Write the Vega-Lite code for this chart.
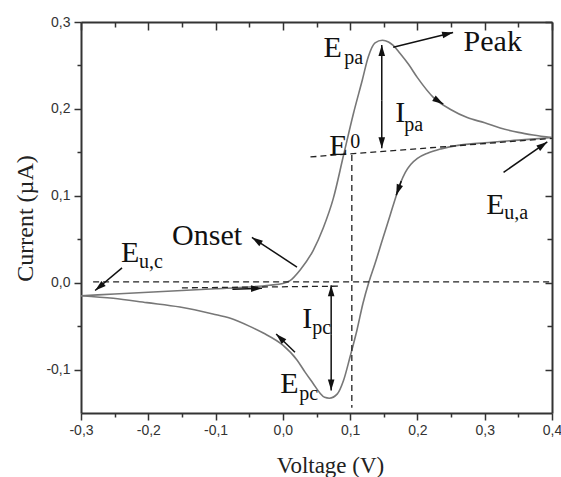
{
  "$schema": "https://vega.github.io/schema/vega-lite/v6.json",
  "width": 471,
  "height": 391,
  "autosize": "none",
  "padding": {"left": 81, "top": 22, "right": 9, "bottom": 64},
  "background": "white",
  "config": {"view": {"stroke": null}},
  "datasets": {
    "curve": [
      {"scan": "forward", "v": -0.3, "i": -0.015},
      {"scan": "forward", "v": -0.25, "i": -0.013},
      {"scan": "forward", "v": -0.2, "i": -0.011},
      {"scan": "forward", "v": -0.15, "i": -0.009},
      {"scan": "forward", "v": -0.1, "i": -0.007},
      {"scan": "forward", "v": -0.05, "i": -0.005},
      {"scan": "forward", "v": -0.02, "i": -0.003},
      {"scan": "forward", "v": 0.0, "i": -0.001},
      {"scan": "forward", "v": 0.01, "i": 0.002},
      {"scan": "forward", "v": 0.026, "i": 0.015},
      {"scan": "forward", "v": 0.045, "i": 0.037},
      {"scan": "forward", "v": 0.06, "i": 0.063},
      {"scan": "forward", "v": 0.075, "i": 0.097},
      {"scan": "forward", "v": 0.09, "i": 0.146},
      {"scan": "forward", "v": 0.105, "i": 0.195},
      {"scan": "forward", "v": 0.118, "i": 0.233},
      {"scan": "forward", "v": 0.127, "i": 0.26},
      {"scan": "forward", "v": 0.137, "i": 0.276},
      {"scan": "forward", "v": 0.148, "i": 0.279},
      {"scan": "forward", "v": 0.157, "i": 0.277},
      {"scan": "forward", "v": 0.164, "i": 0.273},
      {"scan": "forward", "v": 0.174, "i": 0.264},
      {"scan": "forward", "v": 0.187, "i": 0.251},
      {"scan": "forward", "v": 0.2, "i": 0.236},
      {"scan": "forward", "v": 0.224, "i": 0.213},
      {"scan": "forward", "v": 0.25, "i": 0.199},
      {"scan": "forward", "v": 0.274, "i": 0.19},
      {"scan": "forward", "v": 0.3, "i": 0.184},
      {"scan": "forward", "v": 0.323, "i": 0.178},
      {"scan": "forward", "v": 0.35, "i": 0.173},
      {"scan": "forward", "v": 0.372, "i": 0.17},
      {"scan": "forward", "v": 0.4, "i": 0.167},
      {"scan": "reverse", "v": 0.4, "i": 0.167},
      {"scan": "reverse", "v": 0.35, "i": 0.164},
      {"scan": "reverse", "v": 0.3, "i": 0.161},
      {"scan": "reverse", "v": 0.26, "i": 0.158},
      {"scan": "reverse", "v": 0.235, "i": 0.154},
      {"scan": "reverse", "v": 0.215, "i": 0.149},
      {"scan": "reverse", "v": 0.2, "i": 0.143},
      {"scan": "reverse", "v": 0.19, "i": 0.136},
      {"scan": "reverse", "v": 0.182, "i": 0.127},
      {"scan": "reverse", "v": 0.175, "i": 0.115},
      {"scan": "reverse", "v": 0.168, "i": 0.099},
      {"scan": "reverse", "v": 0.16, "i": 0.079},
      {"scan": "reverse", "v": 0.149, "i": 0.052},
      {"scan": "reverse", "v": 0.137, "i": 0.022},
      {"scan": "reverse", "v": 0.128, "i": 0.001},
      {"scan": "reverse", "v": 0.119, "i": -0.024},
      {"scan": "reverse", "v": 0.11, "i": -0.055},
      {"scan": "reverse", "v": 0.1, "i": -0.085},
      {"scan": "reverse", "v": 0.09, "i": -0.113},
      {"scan": "reverse", "v": 0.081, "i": -0.128},
      {"scan": "reverse", "v": 0.069, "i": -0.133},
      {"scan": "reverse", "v": 0.062, "i": -0.132},
      {"scan": "reverse", "v": 0.055, "i": -0.127},
      {"scan": "reverse", "v": 0.045, "i": -0.116},
      {"scan": "reverse", "v": 0.033, "i": -0.103},
      {"scan": "reverse", "v": 0.021, "i": -0.089},
      {"scan": "reverse", "v": 0.0, "i": -0.072},
      {"scan": "reverse", "v": -0.029, "i": -0.058},
      {"scan": "reverse", "v": -0.05, "i": -0.05},
      {"scan": "reverse", "v": -0.078, "i": -0.041},
      {"scan": "reverse", "v": -0.104, "i": -0.036},
      {"scan": "reverse", "v": -0.153, "i": -0.028},
      {"scan": "reverse", "v": -0.202, "i": -0.023},
      {"scan": "reverse", "v": -0.252, "i": -0.018},
      {"scan": "reverse", "v": -0.3, "i": -0.015}
    ],
    "dashes": [
      {"name": "zero", "x": -0.282, "y": 0.001, "x2": 0.4, "y2": 0.001},
      {"name": "fwd baseline", "x": -0.15, "y": -0.006, "x2": 0.085, "y2": -0.004},
      {"name": "E0 vertical", "x": 0.1025, "y": 0.147, "x2": 0.1025, "y2": -0.144},
      {"name": "anodic baseline", "x": 0.041, "y": 0.1447, "x2": 0.4, "y2": 0.166}
    ],
    "arrows": [
      {"name": "curve fwd desc", "x": 0.226, "y": 0.2115, "x2": 0.2384, "y2": 0.2055},
      {"name": "curve rev upper", "x": 0.176, "y": 0.117, "x2": 0.1685, "y2": 0.1005},
      {"name": "curve fwd lower", "x": -0.075, "y": -0.0075, "x2": -0.031, "y2": -0.0065},
      {"name": "curve rev lower", "x": 0.018, "y": -0.08, "x2": -0.01, "y2": -0.059},
      {"name": "Peak", "x": 0.164, "y": 0.271, "x2": 0.253, "y2": 0.288},
      {"name": "Eua", "x": 0.328, "y": 0.127, "x2": 0.393, "y2": 0.162},
      {"name": "Onset", "x": 0.021, "y": 0.018, "x2": -0.046, "y2": 0.052},
      {"name": "Euc", "x": -0.239, "y": 0.017, "x2": -0.279, "y2": -0.009},
      {"name": "Ipa up", "x": 0.147, "y": 0.21, "x2": 0.147, "y2": 0.2735},
      {"name": "Ipa down", "x": 0.147, "y": 0.21, "x2": 0.147, "y2": 0.1547},
      {"name": "Ipc up", "x": 0.0718, "y": -0.06, "x2": 0.0718, "y2": -0.003},
      {"name": "Ipc down", "x": 0.0718, "y": -0.06, "x2": 0.0718, "y2": -0.124}
    ],
    "labels": [
      {"t": "E", "k": "main", "x": 0.0604, "y": 0.26},
      {"t": "pa", "k": "sub", "x": 0.0911, "y": 0.2516},
      {"t": "Peak", "k": "main", "x": 0.2686, "y": 0.2666},
      {"t": "I", "k": "main", "x": 0.167, "y": 0.1847},
      {"t": "pa", "k": "sub", "x": 0.1804, "y": 0.1744},
      {"t": "E", "k": "main", "x": 0.0688, "y": 0.1467},
      {"t": "0", "k": "sub", "x": 0.1001, "y": 0.1548},
      {"t": "Onset", "k": "main", "x": -0.1647, "y": 0.0431},
      {"t": "E", "k": "main", "x": -0.2405, "y": 0.0235},
      {"t": "u,c", "k": "sub", "x": -0.2137, "y": 0.0166},
      {"t": "E", "k": "main", "x": 0.3023, "y": 0.0788},
      {"t": "u,a", "k": "sub", "x": 0.329, "y": 0.073},
      {"t": "I", "k": "main", "x": 0.0287, "y": -0.0525},
      {"t": "pc", "k": "sub", "x": 0.0436, "y": -0.0594},
      {"t": "E", "k": "main", "x": -0.004, "y": -0.1274},
      {"t": "pc", "k": "sub", "x": 0.0242, "y": -0.1352}
    ]
  },
  "resolve": {"axis": {"x": "independent", "y": "independent"}},
  "layer": [
    {
      "data": {"name": "curve"},
      "mark": {"type": "line", "color": "#777777", "strokeWidth": 1.6, "interpolate": "monotone"},
      "encoding": {
        "detail": {"field": "scan", "type": "nominal"},
        "x": {
          "field": "v", "type": "quantitative",
          "scale": {"domain": [-0.3, 0.4], "nice": false, "zero": false},
          "axis": {
            "orient": "bottom",
            "values": [-0.3, -0.25, -0.2, -0.15, -0.1, -0.05, 0, 0.05, 0.1, 0.15, 0.2, 0.25, 0.3, 0.35, 0.4],
            "labelExpr": "abs(datum.value*10-round(datum.value*10))<0.001 ? (datum.value < -0.001 ? '-' : '') + replace(format(abs(datum.value),'.1f'),'.',',') : ''",
            "tickSize": {"condition": {"test": "abs(datum.value*10-round(datum.value*10))<0.001", "value": 7}, "value": 4},
            "labelPadding": 3,
            "labelFlush": false,
            "labelBound": false,
            "labelOverlap": false,
            "grid": false,
            "domainColor": "#333333",
            "domainWidth": 2,
            "tickColor": "#333333",
            "tickWidth": 1.5,
            "labelFont": "Liberation Sans",
            "labelFontSize": 14,
            "labelColor": "#333333",
            "title": "Voltage (V)",
            "titleFont": "'Liberation Serif', 'DejaVu Serif', serif",
            "titleFontSize": 23,
            "titleFontWeight": "normal",
            "titleColor": "#222222",
            "titleX": 249,
            "titleY": 59,
            "titleBaseline": "alphabetic"
          }
        },
        "y": {
          "field": "i", "type": "quantitative",
          "scale": {"domain": [-0.15, 0.3], "nice": false, "zero": false},
          "axis": {
            "orient": "left",
            "values": [-0.1, -0.05, 0, 0.05, 0.1, 0.15, 0.2, 0.25, 0.3],
            "labelExpr": "abs(datum.value*10-round(datum.value*10))<0.001 ? (datum.value < -0.001 ? '-' : '') + replace(format(abs(datum.value),'.1f'),'.',',') : ''",
            "tickSize": {"condition": {"test": "abs(datum.value*10-round(datum.value*10))<0.001", "value": 7}, "value": 4},
            "labelPadding": 4,
            "labelFlush": false,
            "labelBound": false,
            "labelOverlap": false,
            "grid": false,
            "domainColor": "#333333",
            "domainWidth": 2,
            "tickColor": "#333333",
            "tickWidth": 1.5,
            "labelFont": "Liberation Sans",
            "labelFontSize": 14,
            "labelColor": "#333333",
            "title": "Current (µA)",
            "titleFont": "'Liberation Serif', 'DejaVu Serif', serif",
            "titleFontSize": 24,
            "titleFontWeight": "normal",
            "titleColor": "#222222",
            "titleX": -49,
            "titleY": 196,
            "titleAngle": -90,
            "titleAlign": "center",
            "titleBaseline": "alphabetic"
          }
        }
      }
    },
    {
      "data": {"name": "dashes"},
      "mark": {"type": "rule", "color": "#222222", "strokeWidth": 1.3, "strokeDash": [6, 4]},
      "encoding": {
        "x": {
          "field": "x", "type": "quantitative",
          "axis": {
            "orient": "top",
            "values": [-0.3, -0.25, -0.2, -0.15, -0.1, -0.05, 0, 0.05, 0.1, 0.15, 0.2, 0.25, 0.3, 0.35, 0.4],
            "labels": false,
            "title": null,
            "grid": false,
            "tickSize": {"condition": {"test": "abs(datum.value*10-round(datum.value*10))<0.001", "value": -8}, "value": -5},
            "domainColor": "#333333",
            "domainWidth": 2,
            "tickColor": "#333333",
            "tickWidth": 1.5
          }
        },
        "y": {
          "field": "y", "type": "quantitative",
          "axis": {
            "orient": "right",
            "values": [-0.1, -0.05, 0, 0.05, 0.1, 0.15, 0.2, 0.25, 0.3],
            "labels": false,
            "title": null,
            "grid": false,
            "tickSize": {"condition": {"test": "abs(datum.value*10-round(datum.value*10))<0.001", "value": -7}, "value": -5},
            "domainColor": "#333333",
            "domainWidth": 2,
            "tickColor": "#333333",
            "tickWidth": 1.5
          }
        },
        "x2": {"field": "x2"},
        "y2": {"field": "y2"}
      }
    },
    {
      "data": {"name": "arrows"},
      "mark": {"type": "rule", "color": "#111111", "strokeWidth": 1.5},
      "encoding": {
        "x": {"field": "x", "type": "quantitative", "axis": null},
        "y": {"field": "y", "type": "quantitative", "axis": null},
        "x2": {"field": "x2"},
        "y2": {"field": "y2"}
      }
    },
    {
      "data": {"name": "arrows"},
      "transform": [
        {"calculate": "atan2((datum.x2-datum.x)*672.4, (datum.y2-datum.y)*868)*180/PI", "as": "ang"}
      ],
      "mark": {"type": "point", "filled": true, "color": "#111111", "opacity": 1, "size": 121, "shape": "M0,0L0.6,2L-0.6,2Z"},
      "encoding": {
        "x": {"field": "x2", "type": "quantitative", "axis": null},
        "y": {"field": "y2", "type": "quantitative", "axis": null},
        "angle": {"field": "ang", "type": "quantitative", "scale": null}
      }
    },
    {
      "data": {"name": "labels"},
      "mark": {"type": "text", "font": "'Liberation Serif', 'DejaVu Serif', serif", "color": "#111111", "align": "left", "baseline": "alphabetic"},
      "encoding": {
        "x": {"field": "x", "type": "quantitative", "axis": null},
        "y": {"field": "y", "type": "quantitative", "axis": null},
        "text": {"field": "t"},
        "size": {"field": "k", "type": "nominal", "scale": {"domain": ["main", "sub"], "range": [30, 20]}, "legend": null}
      }
    }
  ]
}
